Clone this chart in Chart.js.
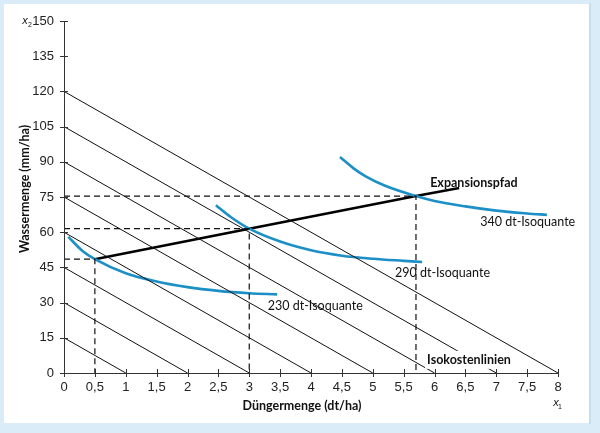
<!DOCTYPE html>
<html lang="de">
<head>
  <meta charset="UTF-8">
  <title>Expansionspfad</title>
  <script src="https://cdn.jsdelivr.net/npm/chart.js"></script>
  <style>
    html, body { margin: 0; padding: 0; background: #ffffff; }
    #wrap { width: 600px; height: 433px; }
  </style>
</head>
<body>
  <div id="wrap"><canvas id="isoChart" width="600" height="433"></canvas></div>
  <script>
    // isocost lines: y-intercept (x2) and x-intercept (x1)
    const isocostY = [15, 30, 45, 60, 75, 90, 105, 120];
    const isocostX = [1, 2, 3, 4, 5, 6, 7, 8];

    // isoquants
    const iso230X = [0.07, 0.3, 0.5, 1, 1.5, 2, 2.5, 3, 3.45];
    const iso230Y = [58, 52, 48.5, 42.5, 39, 36.6, 35, 34, 33.5];
    const iso290X = [2.46, 2.7, 3, 3.5, 4, 4.5, 5, 5.5, 5.8];
    const iso290Y = [71.5, 66.5, 61.5, 56, 52.3, 50, 48.7, 47.8, 47.3];
    const iso340X = [4.47, 4.7, 4.9, 5.2, 5.7, 6, 6.5, 7, 7.5, 7.82];
    const iso340Y = [92, 87, 83.6, 79.8, 75.4, 73.3, 71, 69.2, 68, 67.4];

    // tangent points (dashed helper lines) and expansion path
    const tangentX = [0.5, 3, 5.7];
    const tangentY = [48.5, 61.5, 75.4];
    const pathX = [0.5, 3, 5.7, 6.4];
    const pathY = [48.5, 61.5, 75.4, 78.8];

    const xTicks = [0, 0.5, 1, 1.5, 2, 2.5, 3, 3.5, 4, 4.5, 5, 5.5, 6, 6.5, 7, 7.5, 8];
    const yTicks = [0, 15, 30, 45, 60, 75, 90, 105, 120, 135, 150];

    const blue = '#1b8fc6';
    const toPts = (xs, ys) => xs.map((x, i) => ({ x: x, y: ys[i] }));

    const datasets = [];
    isocostY.forEach((c, i) => {
      datasets.push({
        data: [{ x: 0, y: c }, { x: isocostX[i], y: 0 }],
        borderColor: '#111', borderWidth: 1, pointRadius: 0, showLine: true
      });
    });
    tangentX.forEach((tx, i) => {
      datasets.push({
        data: [{ x: 0, y: tangentY[i] }, { x: tx, y: tangentY[i] }, { x: tx, y: 0 }],
        borderColor: '#111', borderWidth: 1.2, borderDash: [6, 4], pointRadius: 0, showLine: true
      });
    });
    [[iso230X, iso230Y], [iso290X, iso290Y], [iso340X, iso340Y]].forEach(([xs, ys]) => {
      datasets.push({
        data: toPts(xs, ys),
        borderColor: blue, borderWidth: 2.6, pointRadius: 0, showLine: true,
        cubicInterpolationMode: 'monotone'
      });
    });
    datasets.push({
      data: toPts(pathX, pathY),
      borderColor: '#000', borderWidth: 2.6, pointRadius: 0, showLine: true
    });

    const fmt = v => String(v).replace('.', ',');

    // frame, axes with crossing ticks and the text labels
    const decor = {
      id: 'decor',
      beforeDraw(chart) {
        const ctx = chart.ctx;
        ctx.save();
        ctx.fillStyle = '#d9ecf7';
        ctx.fillRect(0, 0, 600, 433);
        ctx.fillStyle = '#ffffff';
        ctx.fillRect(4, 4, 586, 419);
        ctx.strokeStyle = '#c4dfee';
        ctx.lineWidth = 1;
        ctx.strokeRect(589.5, 3.5, 1, 420);
        ctx.restore();
      },
      afterDatasetsDraw(chart) {
        const ctx = chart.ctx;
        const xs = chart.scales.x, ys = chart.scales.y;
        const x0 = xs.getPixelForValue(0), y0 = ys.getPixelForValue(0);
        ctx.save();
        ctx.strokeStyle = '#333';
        ctx.lineWidth = 1;
        ctx.beginPath();
        ctx.moveTo(Math.round(x0) + 0.5, ys.getPixelForValue(150));
        ctx.lineTo(Math.round(x0) + 0.5, y0);
        ctx.moveTo(x0 - 4, Math.round(y0) + 0.5);
        ctx.lineTo(xs.getPixelForValue(8), Math.round(y0) + 0.5);
        yTicks.forEach(v => {
          const p = Math.round(ys.getPixelForValue(v)) + 0.5;
          ctx.moveTo(x0 - 4, p); ctx.lineTo(x0 + 4, p);
        });
        xTicks.forEach(v => {
          const p = Math.round(xs.getPixelForValue(v)) + 0.5;
          ctx.moveTo(p, y0 - 4); ctx.lineTo(p, y0 + 4);
        });
        ctx.stroke();

        const label = (txt, x, y, font, bg) => {
          const px = xs.getPixelForValue(x), py = ys.getPixelForValue(y);
          ctx.font = font;
          ctx.textAlign = 'left';
          ctx.textBaseline = 'middle';
          if (bg) {
            const w = ctx.measureText(txt).width;
            ctx.fillStyle = '#ffffff';
            ctx.fillRect(px - 2, py - 9, w + 4, 18);
          }
          ctx.fillStyle = '#111';
          ctx.fillText(txt, px, py);
        };
        label('Expansionspfad', 5.93, 81, 'bold 12.5px Lato', false);
        label('340 dt-Isoquante', 6.74, 64.2, '12.5px Lato', false);
        label('290 dt-Isoquante', 5.36, 42.6, '12.5px Lato', false);
        label('230 dt-Isoquante', 3.30, 28.5, '12.5px Lato', false);
        label('Isokostenlinien', 5.88, 5.6, 'bold 12.5px Lato', true);

        // axis titles
        ctx.fillStyle = '#111';
        ctx.font = 'bold 12.5px Lato';
        ctx.textAlign = 'center';
        ctx.textBaseline = 'middle';
        ctx.fillText('Düngermenge (dt/ha)', 302, 406);
        ctx.save();
        ctx.translate(25, 189);
        ctx.rotate(-Math.PI / 2);
        ctx.fillText('Wassermenge (mm/ha)', 0, 0);
        ctx.restore();

        ctx.font = 'italic 11px "Liberation Sans"';
        ctx.fillText('x', 556, 403);
        ctx.fillText('x', 25, 21);
        ctx.font = '7px "Liberation Sans"';
        ctx.fillText('1', 560, 407);
        ctx.fillText('2', 30, 25);
        ctx.restore();
      }
    };

    const ctx = document.getElementById('isoChart').getContext('2d');
    const chart = new Chart(ctx, {
      type: 'scatter',
      data: { datasets: datasets },
      options: {
        responsive: false,
        animation: false,
        layout: { padding: { top: 21, right: 42, left: 0, bottom: 0 } },
        plugins: { legend: { display: false }, tooltip: { enabled: false } },
        scales: {
          x: {
            type: 'linear', min: 0, max: 8,
            afterFit: s => { s.height = 60; },
            afterBuildTicks: s => { s.ticks = xTicks.map(v => ({ value: v })); },
            grid: { display: false, drawTicks: false, tickLength: 0 }, border: { display: false },
            ticks: { color: '#222', font: { family: 'Liberation Sans', size: 13 }, padding: 7, callback: v => fmt(v), maxRotation: 0, autoSkip: false }
          },
          y: {
            type: 'linear', min: 0, max: 150,
            afterFit: s => { s.width = 64; },
            afterBuildTicks: s => { s.ticks = yTicks.map(v => ({ value: v })); },
            grid: { display: false, drawTicks: false, tickLength: 0 }, border: { display: false },
            ticks: { color: '#222', font: { family: 'Liberation Sans', size: 13 }, padding: 10, callback: v => fmt(v) }
          }
        }
      },
      plugins: [decor]
    });
  </script>
</body>
</html>
